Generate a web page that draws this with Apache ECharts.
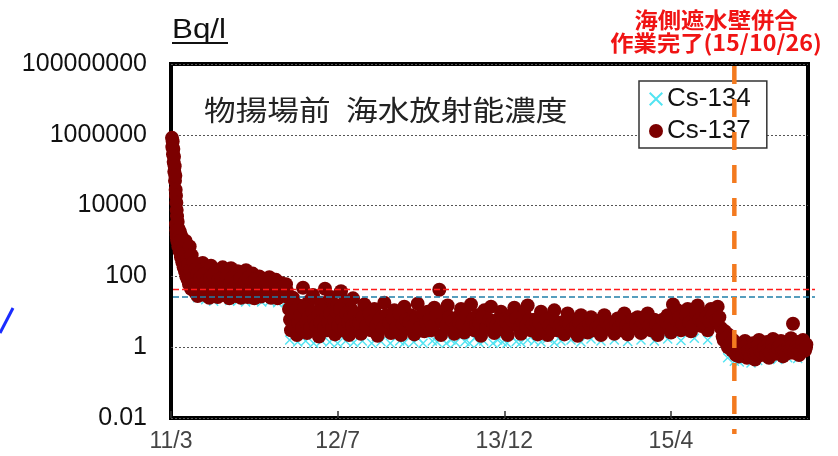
<!DOCTYPE html>
<html>
<head>
<meta charset="utf-8">
<script src="https://cdn.jsdelivr.net/npm/echarts/dist/echarts.min.js"></script>
<style>
html,body{margin:0;padding:0;background:#fff;}
#chart{width:838px;height:456px;}
</style>
</head>
<body>
<div id="chart"></div>
<script>
// Days are counted from 2011-03-11.
const BASE_DATE = Date.UTC(2011, 2, 11);
const xTickLabels = ['11/3', '12/7', '13/12', '15/4'];
const xTickStepDays = 500;
const xMaxDay = 1911;
const yTickLabels = ['0.01', '1', '100', '10000', '1000000', '100000000'];

const unitLabel = 'Bq/l';
const titleParts = ['物揚場前', '海水放射能濃度'];
const noteLines = ['海側遮水壁併合', '作業完了(15/10/26)'];
const wallDoneDate = '2015-10-26';

// Horizontal reference levels (Bq/l)
const refLevelRed = 43;
const refLevelBlue = 26;

// Cs-134 [day, Bq/l]
const cs134 = [
  [3,700000],[5,480000],[7,300000],[9,150000],[11,80000],[13,40000],[15,18000],[17,7000],[19,3000],[21,1800],
  [24,1500],[27,1000],[30,700],[34,900],[38,450],[42,300],[46,200],[50,150],[55,100],[60,70],[65,50],[70,40],[75,30],
  [80,25],[92,60],[104,22],[116,40],[128,20],[140,70],[152,24],[164,35],[176,21],[188,50],[200,20],[212,30],
  [224,19],[236,45],[248,21],[260,28],[272,19],[284,35],[296,20],[308,24],[320,18],[332,30],[344,19],
  [356,1.6],[368,5],[380,1.4],[392,8],[404,1.5],[416,3],[428,1.3],[440,6],[452,1.5],[464,2.5],[476,1.4],[488,4],
  [500,1.3],[512,7],[524,1.5],[536,2.2],[548,1.35],[560,3],[574,1.5],[588,5],[602,1.3],[616,2],[630,1.45],[644,4],
  [658,1.3],[672,2.6],[686,1.5],[700,1.35],[714,3.5],[728,1.4],[742,1.8],[756,1.3],[770,2.5],[784,1.5],[798,1.4],
  [812,3],[826,1.3],[840,1.6],[854,1.35],[868,2.2],[882,1.45],[896,1.3],[910,1.8],[924,1.35],[938,1.5],[952,2.5],
  [966,1.3],[980,1.6],[994,1.4],[1008,1.3],[1022,2],[1036,1.45],[1050,1.35],[1070,1.6],[1090,1.5],[1110,1.4],
  [1130,1.8],[1150,1.35],[1170,1.5],[1200,1.6],[1230,1.4],[1260,1.7],[1290,1.5],[1330,1.6],[1370,1.45],[1410,1.6],
  [1450,1.5],[1490,1.7],[1530,1.55],[1570,1.8],[1610,1.6],
  [1670,0.5],[1690,0.4],[1705,0.38],[1720,0.45],[1740,0.36],[1760,0.42],[1790,0.5],[1820,0.45],[1850,0.5],[1880,0.48]
];

// Cs-137 [day, Bq/l], first sampling round
const cs137 = [
  [3,820000],[4,450000],[5,650000],[6,280000],[7,400000],[8,170000],[9,240000],[10,90000],[11,130000],[12,50000],
  [13,70000],[14,28000],[15,19000],[16,12000],[17,7500],[18,5000],[19,2500],[20,3500],[22,1500],[23,2200],[25,900],
  [27,1800],[29,650],[31,1400],[33,500],[35,1100],[37,380],[39,850],[41,280],[43,650],[45,200],[47,480],[49,150],
  [51,360],[53,110],[55,260],[57,80],[59,190],[61,60],[64,140],[67,45],[70,110],[73,35],[76,85],
  [80,28],[85,160],[90,45],[95,240],[100,30],[105,120],[110,60],[115,25],[120,200],[125,80],[130,35],[135,150],
  [140,26],[145,100],[150,50],[155,180],[160,30],[165,70],[170,130],[175,24],[180,170],[185,45],[190,90],[195,28],
  [200,140],[205,60],[210,25],[215,110],[220,40],[225,150],[230,26],[235,80],[240,55],[245,120],[250,24],[255,70],
  [260,35],[265,100],[270,27],[275,60],[280,85],[285,30],[290,45],[295,95],[300,25],[305,70],[310,38],[315,80],
  [320,24],[325,55],[330,65],[335,30],[340,45],[345,60],[350,26],
  [354,12],[360,3],[366,25],[372,6],[378,2.2],[384,15],[390,4],[396,48],[402,8],[408,2.5],[414,20],[420,5],
  [426,30],[432,3],[438,10],[444,2],[450,18],[456,6],[462,45],[468,3],[474,12],[480,26],[486,4],[492,2.3],
  [498,15],[504,7],[510,38],[516,3],[522,20],[528,5],[534,2.2],[540,12],[546,24],[552,4],
  [560,9],[570,2.4],[580,16],[590,5],[600,3],[610,12],[620,2.1],[630,7],[640,18],[650,4],[660,2.5],[670,11],
  [680,6],[690,2.2],[700,14],[710,3.5],[720,8],[730,2.3],[740,17],[750,5],[760,2.8],[770,10],[780,3],[790,13],
  [800,6],[805,42],[810,2.2],[820,9],[830,15],[840,3.5],[850,2.4],[860,7],[870,12],[880,2.6],[890,5],[900,16],
  [910,3],[920,8],[930,2.1],[940,11],[950,4.5],[960,14],[970,2.5],[980,6],[990,10],[1000,3],[1010,2.2],[1020,8],
  [1030,13],[1040,4],[1050,2.4],[1060,9],[1070,15],[1080,3],[1090,6],[1100,2.3],
  [1110,10],[1120,4],[1130,2.2],[1140,7],[1150,11],[1160,3],[1170,5],[1180,2.3],[1190,9],[1200,3.5],[1210,6],
  [1220,2.1],[1230,8],[1240,4.5],[1250,2.6],[1260,7],[1270,3],[1280,5.5],[1290,2.2],[1300,8],[1310,3.5],[1320,5],
  [1330,2.4],[1340,6.5],[1350,3],[1360,9],[1370,2.3],[1380,5],[1390,3.5],[1400,7],[1410,2.5],[1420,4],[1430,9],
  [1440,3],[1450,6],[1460,2.2],[1470,5],[1480,3.8],[1490,8],[1500,2.6],[1506,16],[1510,4.5],[1520,11],[1530,3],
  [1540,6],[1550,12],[1560,2.8],[1570,7],[1580,15],[1590,4],[1600,9],[1610,3],[1620,12],[1630,5],[1640,14],[1650,3.5],
  [1655,2],[1662,2.8],[1668,1.2],[1674,2.2],[1680,0.9],[1686,1.6],[1692,0.7],[1698,1.3],[1704,0.55],[1710,1.1],
  [1716,0.8],[1722,1.5],[1728,0.5],[1734,1.0],[1740,0.7],[1746,1.3],[1752,0.45],[1758,0.9],[1764,1.6],[1770,0.6],
  [1776,1.1],[1782,0.75],[1788,1.4],[1794,0.5],[1800,0.95],[1806,1.7],[1812,0.65],[1818,1.2],[1824,0.8],[1830,1.5],
  [1836,0.55],[1842,1.0],[1848,1.3],[1854,0.7],[1860,1.8],[1866,4.6],[1872,0.9],[1878,1.4],[1884,0.6],[1890,1.1],
  [1896,1.6],[1902,0.8],[1906,1.2]
];

// Cs-137 [day, Bq/l], second sampling round
const cs137Second = [
  [15,3000],[16,2000],[17,1500],[18,1200],[19,1000],[21,2000],[22,700],[24,1300],[26,500],[28,1000],[30,350],
  [32,800],[34,250],[36,600],[38,180],[40,450],[42,140],[44,1000],[46,100],[48,300],[50,80],[52,220],[54,60],
  [56,700],[58,150],[60,45],[62,400],[65,90],[68,250],[71,60],[74,160],[77,50],[79,120],
  [82,70],[87,90],[92,40],[97,110],[102,55],[107,75],[112,35],[117,90],[122,50],[127,110],[132,60],[137,40],
  [142,80],[147,35],[152,90],[157,55],[162,45],[167,100],[172,40],[177,65],[182,90],[187,32],[192,55],[197,70],
  [202,40],[207,85],[212,50],[217,35],[222,70],[227,45],[232,90],[237,35],[242,65],[247,45],[252,80],[257,30],
  [262,55],[267,40],[272,70],[277,35],[282,50],[287,40],[292,65],[297,35],[302,50],[307,30],[312,55],[317,40],
  [322,35],[327,45],[332,28],[337,50],[342,33],[347,40],
  [357,6],[363,9],[369,4],[375,11],[381,5],[387,8],[393,3.5],[399,13],[405,5],[411,7],[417,3.5],[423,10],
  [429,6],[435,4],[441,8],[447,5],[453,11],[459,3.5],[465,7],[471,5],[477,9],[483,3.5],[489,6],[495,10],
  [501,4],[507,12],[513,6],[519,3.5],[525,9],[531,5],[537,7],[543,4],[549,8],[555,5],
  [565,5],[575,7],[585,4],[595,9],[605,5.5],[615,4],[625,6],[635,3.5],[645,8],[655,5],[665,6.5],[675,3.5],
  [685,9],[695,4.5],[705,6],[715,5],[725,4],[735,7],[745,3.5],[755,9],[765,5],[775,6],[785,4],[795,8],
  [815,5],[825,4],[835,7],[845,5.5],[855,3.8],[865,5],[875,4.5],[885,8],[895,3.5],[905,6],[915,4.5],[925,5],
  [935,7],[945,3.5],[955,6],[965,5],[975,4],[985,3.5],[995,6],[1005,5],[1015,4],[1025,5.5],[1035,6.5],[1045,3.5],
  [1055,5],[1065,4],[1075,6],[1085,4.5],[1095,5],
  [1105,5],[1115,3.5],[1125,6],[1135,4],[1145,3],[1155,5],[1165,4],[1175,3.5],[1185,5],[1195,4.5],[1205,3.2],
  [1215,4],[1225,5],[1235,3],[1245,3.8],[1255,4.5],[1265,5],[1275,3.5],[1285,4],[1295,3],[1305,5],[1315,4],
  [1325,3.5],[1335,4.5],[1345,3.8],[1355,5],[1365,4],[1375,3.2],[1385,6],[1395,4.5],[1405,3.5],[1415,5],[1425,6],
  [1435,4],[1445,3.5],[1455,4.5],[1465,3.2],[1475,6],[1485,5],[1495,4],[1505,3.5],[1515,6],[1525,7],[1535,4.5],
  [1545,8],[1555,5],[1565,4],[1575,9],[1585,6],[1595,5],[1605,7],[1615,5.5],[1625,8],[1635,6],[1645,7],
  [1658,1.6],[1665,1.8],[1671,1.0],[1677,1.3],[1683,0.8],[1689,1.0],[1695,0.6],[1701,0.9],[1707,0.75],[1713,0.6],
  [1719,1.0],[1725,0.7],[1731,0.8],[1737,0.55],[1743,0.9],[1749,0.65],[1755,0.75],[1761,1.1],[1767,0.8],[1773,0.7],
  [1779,0.95],[1785,0.6],[1791,0.85],[1797,0.7],[1803,1.2],[1809,0.9],[1815,0.7],[1821,0.95],[1827,1.1],[1833,0.75],
  [1839,0.8],[1845,0.65],[1851,1.0],[1857,0.85],[1863,1.1],[1869,0.7],[1875,1.0],[1881,0.85],[1887,0.75],[1893,1.2],
  [1899,0.9],[1905,1.0]
];

const COLOR_134 = '#52e4f2';
const COLOR_137 = '#7c0000';
const CROSS = 'path://M0,1L1,0L5,4L9,0L10,1L6,5L10,9L9,10L5,6L1,10L0,9L4,5Z';

const chart = echarts.init(document.getElementById('chart'), null, { renderer: 'canvas' });

chart.setOption({
  animation: false,
  backgroundColor: '#fff',
  grid: {
    left: 171, right: 30, top: 64, bottom: 38,
    show: true, borderColor: '#000', borderWidth: 4, backgroundColor: 'transparent'
  },
  legend: {
    data: ['Cs-134', 'Cs-137'],
    orient: 'vertical',
    left: 639, top: 81,
    backgroundColor: '#fff',
    borderColor: '#333', borderWidth: 1.5, borderRadius: 0,
    padding: [5, 16, 4, 10],
    itemGap: 6, itemWidth: 14, itemHeight: 14,
    textStyle: { fontSize: 26, fontFamily: 'Liberation Sans, Arial, sans-serif', color: '#111', padding: [0, 0, 0, -1] },
    z: 5
  },
  xAxis: {
    type: 'value',
    min: 0, max: xMaxDay, interval: xTickStepDays,
    axisLine: { show: false },
    axisTick: { show: true, inside: true, length: 7, lineStyle: { color: '#333', width: 1.5 } },
    splitLine: { show: false },
    axisLabel: {
      showMaxLabel: false,
      margin: 12,
      fontSize: 23, color: '#444', fontFamily: 'Liberation Sans, Arial, sans-serif',
      formatter: v => (v % xTickStepDays === 0 ? (xTickLabels[v / xTickStepDays] || '') : '')
    }
  },
  yAxis: {
    type: 'log', logBase: 100,
    min: 0.01, max: 100000000,
    axisLine: { show: false },
    axisTick: { show: false },
    splitLine: { show: true, lineStyle: { color: '#555', width: 1, type: [2, 2] } },
    axisLabel: {
      margin: 24,
      fontSize: 25, color: '#111', fontFamily: 'Liberation Sans, Arial, sans-serif',
      formatter: v => {
        const i = Math.round((Math.log10(v) + 2) / 2);
        return yTickLabels[i] || '';
      }
    }
  },
  series: [
    {
      name: 'Cs-134', type: 'scatter', data: cs134,
      symbol: CROSS, symbolSize: 10,
      itemStyle: { color: COLOR_134, opacity: 1 }, z: 2
    },
    {
      name: 'Cs-137', type: 'scatter', data: cs137.concat(cs137Second),
      symbol: 'circle', symbolSize: 14,
      itemStyle: { color: COLOR_137, opacity: 1 }, z: 3
    }
  ]
});

// Annotations placed through the chart's own scales
const toPx = (x, y) => chart.convertToPixel({ gridIndex: 0 }, [x, y]);
const dayOf = s => (Date.parse(s + 'T00:00:00Z') - BASE_DATE) / 86400000;

const wallX = toPx(dayOf(wallDoneDate), 1)[0];
const plotTop = toPx(0, 100000000)[1];
const plotBottom = toPx(0, 0.01)[1];
const plotLeft = toPx(0, 1)[0];
const plotRight = toPx(xMaxDay, 1)[0];
const yRed = toPx(0, refLevelRed)[1];
const yBlue = toPx(0, refLevelBlue)[1];

chart.setOption({
  graphic: [
    { type: 'line', z: 4, shape: { x1: plotLeft + 2, y1: yRed, x2: plotRight + 7, y2: yRed },
      style: { stroke: '#ff1a1a', lineWidth: 1.5, lineDash: [6, 3] } },
    { type: 'line', z: 4, shape: { x1: plotLeft + 2, y1: yBlue, x2: plotRight + 7, y2: yBlue },
      style: { stroke: '#1f7fa8', lineWidth: 1.5, lineDash: [6, 3] } },
    { type: 'line', z: 20, shape: { x1: wallX, y1: plotTop + 2, x2: wallX, y2: plotBottom + 16 },
      style: { stroke: '#f37a1f', lineWidth: 4.5, lineDash: [18, 15] } },
    { type: 'text', z: 20, x: 172, y: 30, scaleX: 1.12,
      style: { text: unitLabel, fill: '#111', font: '28px "Liberation Sans", Arial, sans-serif', textVerticalAlign: 'middle' } },
    { type: 'line', z: 20, shape: { x1: 172, y1: 43, x2: 228, y2: 43 },
      style: { stroke: '#111', lineWidth: 2 } },
    { type: 'text', z: 20, x: 204, y: 110, scaleX: 1.13,
      style: { text: titleParts[0], fill: '#222', font: '28px "Noto Sans CJK JP", sans-serif', textVerticalAlign: 'middle' } },
    { type: 'text', z: 20, x: 346, y: 110, scaleX: 1.13,
      style: { text: titleParts[1], fill: '#222', font: '28px "Noto Sans CJK JP", sans-serif', textVerticalAlign: 'middle' } },
    { type: 'text', z: 20, x: 716, y: 20, scaleX: 1.06,
      style: { text: noteLines[0], fill: '#f01414', font: 'bold 22px "Noto Sans CJK JP", sans-serif', textAlign: 'center', textVerticalAlign: 'middle' } },
    { type: 'text', z: 20, x: 716, y: 43, scaleX: 1.06,
      style: { text: noteLines[1], fill: '#f01414', font: 'bold 22px "Noto Sans CJK JP", sans-serif', textAlign: 'center', textVerticalAlign: 'middle' } },
    { type: 'line', z: 20, shape: { x1: 0, y1: 333, x2: 13, y2: 308 },
      style: { stroke: '#1a2cff', lineWidth: 3 } }
  ]
});
</script>
</body>
</html>
